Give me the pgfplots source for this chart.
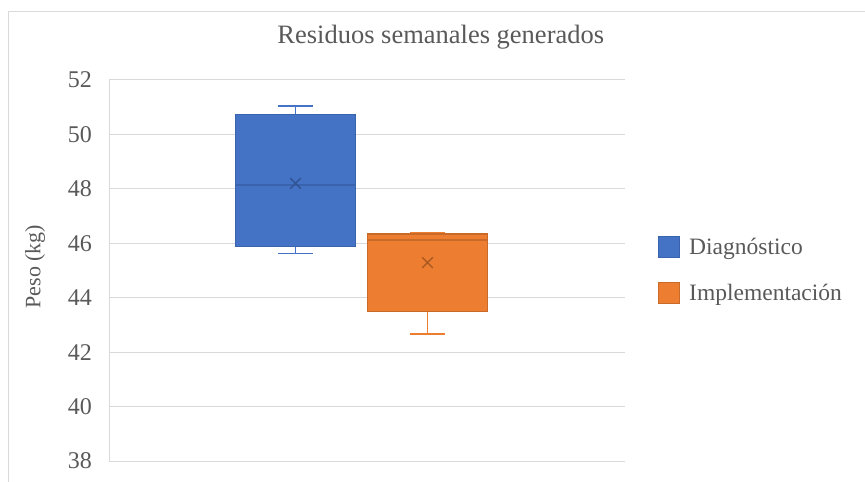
\documentclass[border=0pt]{standalone}
\usepackage{pgfplots}
\pgfplotsset{compat=1.18}
\usepackage{fontspec}
\setmainfont{Liberation Serif}
\definecolor{txt}{HTML}{595959}
\definecolor{grd}{HTML}{D9D9D9}
\definecolor{diag}{HTML}{4472C4}
\definecolor{diagd}{HTML}{3A63AE}
\definecolor{impl}{HTML}{ED7D31}
\definecolor{impld}{HTML}{C96A28}
\begin{document}
\begin{tikzpicture}[x=1pt,y=1pt]
% chart frame
\draw[grd, line width=1pt] (8.5,470.5) -- (900,470.5);
\draw[grd, line width=1pt] (8.5,470.5) -- (8.5,-20);
\begin{axis}[
  at={(109pt,21pt)}, anchor=south west,
  scale only axis, width=516pt, height=381pt,
  xmin=0, xmax=516, ymin=38, ymax=52,
  ytick={38,40,...,52}, xtick=\empty,
  axis x line=none, axis y line*=left,
  y axis line style={grd, line width=1pt, -},
  ymajorgrids, major grid style={grd, line width=1pt},
  tick style={draw=none},
  unbounded coords=jump,
  yticklabel={\fontsize{24}{26}\selectfont\pgfmathprintnumber[assume math mode=true]{\tick}},
  yticklabel style={text=txt, inner sep=0pt, xshift=-17pt},
  ylabel={Peso (kg)},
  ylabel style={font=\fontsize{22}{24}\selectfont, text=txt, at={(axis description cs:-0.143,0.51)}, anchor=center},
  title={Residuos semanales generados},
  title style={font=\fontsize{26.5}{28}\selectfont, text=txt, at={(axis description cs:0.643,1)}, anchor=base, yshift=30pt},
  legend style={draw=none, fill=none, at={(axis description cs:1.064,0.501)}, anchor=west,
    font=\fontsize{23.5}{25}\selectfont, text=txt, row sep=24pt, inner sep=0pt,
    /tikz/every odd column/.append style={column sep=7pt}},
  legend cell align=left,
  legend image code/.code={\draw[#1, line width=1pt] (0pt,-10.5pt) rectangle (21pt,10.5pt);},
]
% Diagnóstico: whiskers 45.62 / 51.04, quartiles 45.875 / 50.74, median 48.14, mean 48.2
\addplot[forget plot, draw=diag, line width=1.6pt] coordinates {
  (186.5,50.74) (186.5,51.04) (nan,nan) (169,51.04) (204,51.04) (nan,nan)
  (186.5,45.875) (186.5,45.62) (nan,nan) (169,45.62) (204,45.62)};
\addplot[forget plot, draw=diagd, fill=diag, line width=1.4pt] coordinates {
  (126.5,45.875) (246.5,45.875) (246.5,50.74) (126.5,50.74) (126.5,45.875)};
\addplot[forget plot, draw=diagd, line width=1.4pt] coordinates {(126.5,48.14) (246.5,48.14)};
\addplot[forget plot, only marks, mark=x, mark size=7.5, draw=diagd!85!black, line width=1.4pt] coordinates {(186.5,48.2)};
% Implementación: whiskers 42.67 / 46.38, quartiles 43.49 / 46.34, median 46.12, mean 45.29
\addplot[forget plot, draw=impl, line width=1.6pt] coordinates {
  (318.5,46.34) (318.5,46.38) (nan,nan) (301,46.38) (336,46.38) (nan,nan)
  (318.5,43.49) (318.5,42.67) (nan,nan) (301,42.67) (336,42.67)};
\addplot[forget plot, draw=impld, fill=impl, line width=1.4pt] coordinates {
  (258.5,43.49) (378.5,43.49) (378.5,46.34) (258.5,46.34) (258.5,43.49)};
\addplot[forget plot, draw=impld, line width=1.4pt] coordinates {(258.5,46.12) (378.5,46.12)};
\addplot[forget plot, only marks, mark=x, mark size=7.5, draw=impld!85!black, line width=1.4pt] coordinates {(318.5,45.29)};
\addlegendimage{draw=diagd, fill=diag}
\addlegendentry{Diagnóstico}
\addlegendimage{draw=impld, fill=impl}
\addlegendentry{Implementación}
\end{axis}
\pgfresetboundingbox
\useasboundingbox (0,0) rectangle (865,482);
\end{tikzpicture}
\end{document}
